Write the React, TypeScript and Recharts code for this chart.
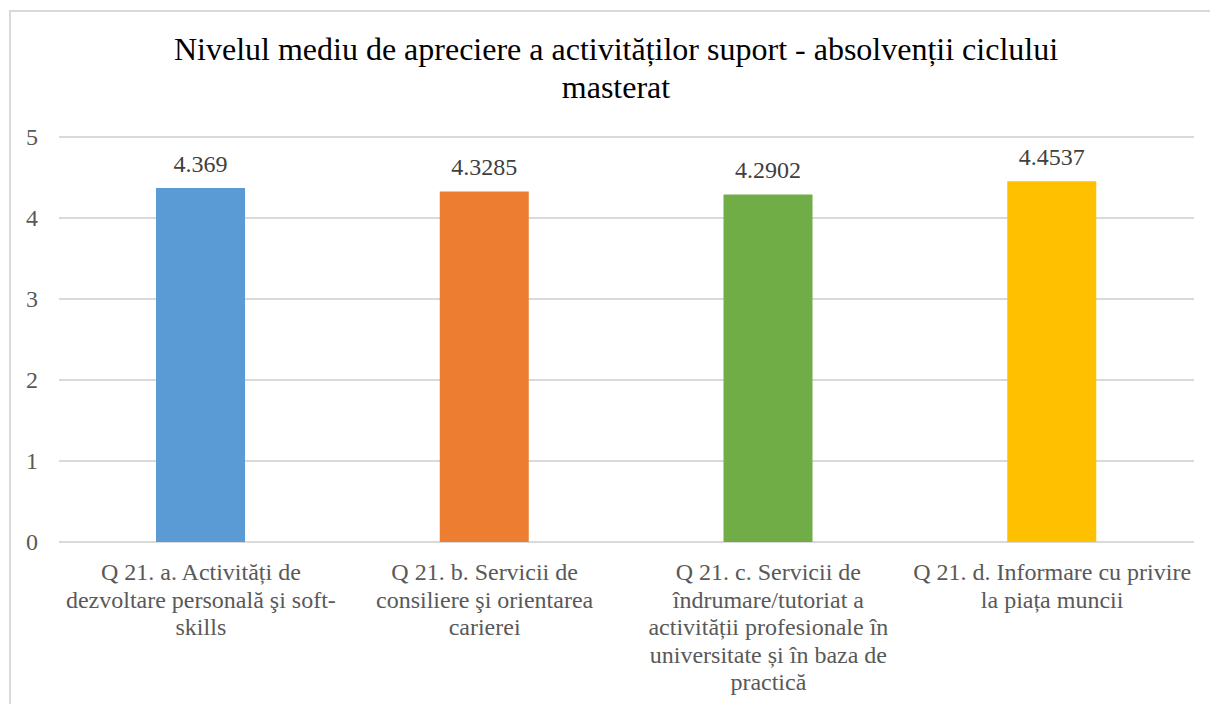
import React from 'react';
import { BarChart, Bar, XAxis, YAxis, CartesianGrid, LabelList, Cell } from 'recharts';

const categories = [
  'Q 21. a. Activități de dezvoltare personală şi soft-skills',
  'Q 21. b. Servicii de consiliere şi orientarea carierei',
  'Q 21. c. Servicii de îndrumare/tutoriat a activității profesionale în universitate și în baza de practică',
  'Q 21. d. Informare cu privire la piața muncii',
];

// line breaks as they appear under the axis
const categoryLines = [
  ['Q 21. a. Activități de', 'dezvoltare personală şi soft-', 'skills'],
  ['Q 21. b. Servicii de', 'consiliere şi orientarea', 'carierei'],
  ['Q 21. c. Servicii de', 'îndrumare/tutoriat a', 'activității profesionale în', 'universitate și în baza de', 'practică'],
  ['Q 21. d. Informare cu privire', 'la piața muncii'],
];

const values = [4.369, 4.3285, 4.2902, 4.4537];
const barColors = ['#5B9BD5', '#ED7D31', '#70AD47', '#FFC000'];
const yTicks = [0, 1, 2, 3, 4, 5];

const titleLines = [
  'Nivelul mediu de apreciere a activităților suport - absolvenții ciclului',
  'masterat',
];

const data = categories.map((name, i) => ({ name, value: values[i] }));

const FONT = '"Liberation Serif", "Times New Roman", serif';

const CategoryTick = ({ x, y, payload }: any) => {
  const lines = categoryLines[payload.index] || [payload.value];
  return (
    <text x={x} y={y} textAnchor="middle" fill="#595959" fontSize={24} style={{ fontFamily: FONT }}>
      {lines.map((l: string, i: number) => (
        <tspan key={i} x={x} y={y + 30 + i * 27.5}>
          {l}
        </tspan>
      ))}
    </text>
  );
};

const ValueTick = ({ y, payload }: any) => (
  <text x={38} y={y + 8} textAnchor="end" fill="#595959" fontSize={24} style={{ fontFamily: FONT }}>
    {payload.value}
  </text>
);

export default function App() {
  return (
    <div style={{ position: 'absolute', left: 0, top: 0, width: 1210, height: 704, overflow: 'hidden', background: '#fff' }}>
      <div
        style={{
          position: 'absolute',
          left: 9,
          top: 10,
          width: 1214,
          height: 720,
          border: '2px solid #d9d9d9',
          boxSizing: 'border-box',
        }}
      />
      <div
        style={{
          position: 'absolute',
          left: 9,
          top: 30,
          width: 1214,
          textAlign: 'center',
          fontFamily: FONT,
          fontSize: 32,
          lineHeight: '38px',
          color: '#000',
        }}
      >
        {titleLines.map((t, i) => (
          <div key={i}>{t}</div>
        ))}
      </div>
      <div style={{ position: 'absolute', left: 0, top: 0 }}>
        <BarChart width={1210} height={704} data={data} margin={{ top: 137, right: 16, left: 0, bottom: 0 }}>
          <CartesianGrid vertical={false} stroke="#d9d9d9" strokeWidth={2} />
          <XAxis
            dataKey="name"
            axisLine={false}
            tickLine={false}
            interval={0}
            height={162}
            tick={<CategoryTick />}
          />
          <YAxis
            domain={[0, 5]}
            ticks={yTicks}
            axisLine={false}
            tickLine={false}
            width={59}
            tick={<ValueTick />}
          />
          <Bar dataKey="value" barSize={89} isAnimationActive={false}>
            {data.map((d, i) => (
              <Cell key={i} fill={barColors[i]} />
            ))}
            <LabelList
              dataKey="value"
              position="top"
              offset={16}
              fill="#404040"
              fontSize={24}
              style={{ fontFamily: FONT }}
            />
          </Bar>
        </BarChart>
      </div>
    </div>
  );
}
